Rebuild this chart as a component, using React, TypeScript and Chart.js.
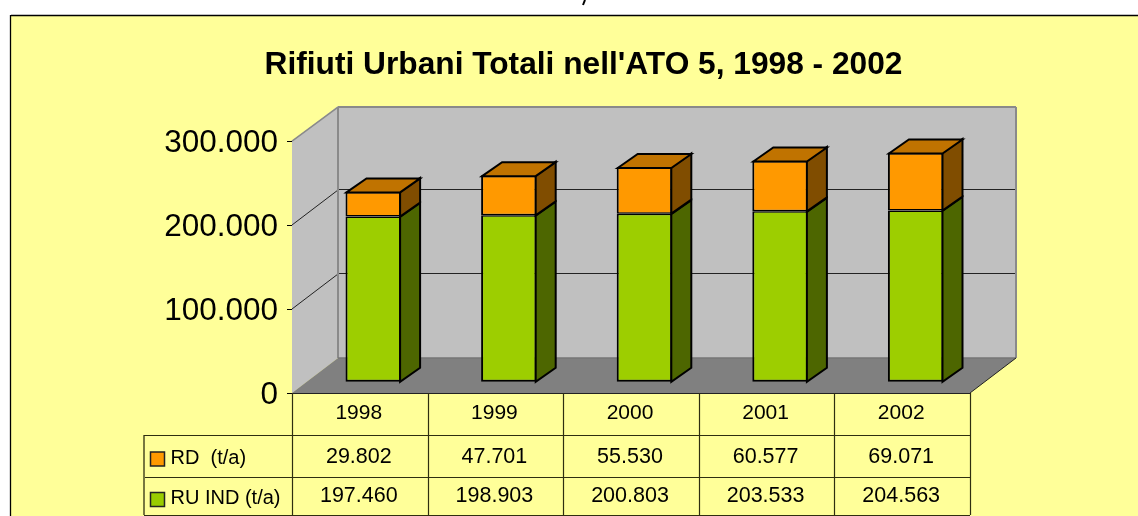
import React, { useEffect, useRef } from "react";
import { Chart, registerables } from "chart.js";

Chart.register(...registerables);

const years = ["1998", "1999", "2000", "2001", "2002"];
const ruInd = [197460, 198903, 200803, 203533, 204563];
const rd = [29802, 47701, 55530, 60577, 69071];
const ruIndLabel = "RU IND (t/a)";
const rdLabel = "RD  (t/a)";
const chartTitle = "Rifiuti Urbani Totali nell'ATO 5, 1998 - 2002";

const FONT = "'Liberation Sans', Arial, sans-serif";
const fmt = (v: number) => String(v).replace(/\B(?=(\d{3})+(?!\d))/g, ".");

const WALL = { dx: 46, dy: -35 };
const BAR = { ox: 13.5, oy: -10.7, dx: 20, dy: -14 };

const poly = (ctx: CanvasRenderingContext2D, pts: number[][], fill: string | null, stroke: string | null, lw = 1) => {
  ctx.beginPath();
  pts.forEach((p, i) => (i ? ctx.lineTo(p[0], p[1]) : ctx.moveTo(p[0], p[1])));
  ctx.closePath();
  if (fill) {
    ctx.fillStyle = fill;
    ctx.fill();
  }
  if (stroke) {
    ctx.strokeStyle = stroke;
    ctx.lineWidth = lw;
    ctx.lineJoin = "miter";
    ctx.stroke();
  }
};

const seg = (ctx: CanvasRenderingContext2D, x1: number, y1: number, x2: number, y2: number, c: string, lw: number) => {
  ctx.beginPath();
  ctx.moveTo(x1, y1);
  ctx.lineTo(x2, y2);
  ctx.strokeStyle = c;
  ctx.lineWidth = lw;
  ctx.stroke();
};

const sidePlugin = {
  id: "scene3d",
  beforeDraw(chart: any) {
    const { ctx, width, height } = chart;
    ctx.save();
    ctx.fillStyle = "#FFFFFF";
    ctx.fillRect(0, 0, width, height);
    ctx.fillStyle = "#FFFF99";
    ctx.fillRect(11, 16, width, height);
    seg(ctx, 11, 15.5, width, 15.5, "#000", 1.3);
    seg(ctx, 10.5, 15, 10.5, height, "#000", 1.3);
    // small stray mark at the top edge of the page
    seg(ctx, 585, 0, 583, 5, "#000", 2);
    ctx.restore();
  },
  beforeDatasetsDraw(chart: any) {
    const { ctx, chartArea: a, scales } = chart;
    const { left: L, right: R, top: T, bottom: B } = a;
    const { dx, dy } = WALL;
    ctx.save();
    poly(ctx, [[L + dx, T + dy], [R + dx, T + dy], [R + dx, B + dy], [L + dx, B + dy]], "#C0C0C0", null);
    poly(ctx, [[L, T], [L + dx, T + dy], [L + dx, B + dy], [L, B]], "#C0C0C0", null);
    poly(ctx, [[L, B], [R, B], [R + dx, B + dy], [L + dx, B + dy]], "#808080", null);
    const ticks = scales.y.ticks;
    ticks.forEach((t: any) => {
      const y = Math.round(scales.y.getPixelForValue(t.value));
      if (t.value > 0 && t.value < 300000) {
        seg(ctx, L, y, L + dx, y + dy, "#222", 1);
        seg(ctx, L + dx, y + dy - 0.5, R + dx, y + dy - 0.5, "#222", 1);
      }
    });
    const g = "#8A8A8A";
    seg(ctx, L, T, L + dx, T + dy + 1, g, 1.5);
    seg(ctx, L + dx, T + dy + 1, R + dx, T + dy + 1, g, 2);
    seg(ctx, R + dx, T + dy + 1, R + dx, B + dy, g, 2);
    seg(ctx, L + dx, T + dy + 1, L + dx, B + dy, g, 2);
    seg(ctx, L + dx, B + dy, R + dx, B + dy, "#767676", 1.5);
    seg(ctx, R, B, R + dx, B + dy, "#222", 1);
    ctx.translate(BAR.ox, BAR.oy);
  },
  afterDatasetsDraw(chart: any) {
    const { ctx, chartArea: a, scales } = chart;
    const { dx, dy } = BAR;
    const faces = [
      { side: "#4D6600", top: "#739900" },
      { side: "#804D00", top: "#C07300" },
    ];
    faces.forEach((f, di) => {
      chart.getDatasetMeta(di).data.forEach((el: any) => {
        const r = el.x + el.width / 2;
        const l = el.x - el.width / 2;
        poly(ctx, [[r - 1, el.y + 0.5], [r - 1 + dx, el.y + dy + 0.5], [r - 1 + dx, el.base + dy], [r - 1, el.base]], f.side, "#000", 2);
        if (di === 1) {
          poly(ctx, [[l + 1, el.y + 1], [l + 1 + dx, el.y + dy + 1], [r - 1 + dx, el.y + dy + 1], [r - 1, el.y + 1]], f.top, "#000", 2);
        }
      });
    });
    ctx.restore();

    // data table below the plot, columns taken from the category scale
    const { left: L, right: R, bottom: B } = a;
    const x = scales.x;
    const col = (R - L) / years.length;
    const rows = [B + 42, B + 84, B + 122];
    const tableLeft = 144;
    const line = "#2E2E10";
    ctx.save();
    seg(ctx, L, B + 0.5, R, B + 0.5, "#222", 1.2);
    for (let i = 0; i <= years.length; i++) {
      const px = Math.round(L + i * col) + 0.5;
      seg(ctx, px, B, px, rows[2], line, 1.2);
    }
    seg(ctx, tableLeft, rows[0], tableLeft, rows[2], line, 1.3);
    rows.forEach((y, i) => seg(ctx, i === 1 ? tableLeft + 1 : tableLeft, y + 0.5, R, y + 0.5, line, 1.2));

    ctx.fillStyle = "#000";
    ctx.textBaseline = "middle";
    ctx.font = `21.5px ${FONT}`;
    ctx.textAlign = "center";
    years.forEach((_, i) => {
      const cx = x.getPixelForValue(i) - 1;
      ctx.fillText(fmt(rd[i]), cx, B + 64.5);
      ctx.fillText(fmt(ruInd[i]), cx, B + 103.5);
    });
    ctx.textAlign = "left";
    ctx.font = `20px ${FONT}`;
    ctx.fillText(rdLabel, 170.5, B + 65.5);
    ctx.fillText(ruIndLabel, 170.5, B + 105);
    const key = (y: number, c: string) => {
      poly(ctx, [[150.5, y], [164.5, y], [164.5, y + 14], [150.5, y + 14]], c, "#222", 1.5);
    };
    key(B + 59, "#FF9900");
    key(B + 99.5, "#99CC00");
    ctx.restore();
  },
};

export default function App() {
  const ref = useRef<HTMLCanvasElement>(null);
  useEffect(() => {
    document.body.style.margin = "0";
    const chart = new Chart(ref.current as HTMLCanvasElement, {
      type: "bar",
      data: {
        labels: years,
        datasets: [
          {
            label: ruIndLabel,
            data: ruInd,
            backgroundColor: "#9DCE00",
            borderColor: "#000",
            borderWidth: { top: 1.5, right: 2, bottom: 2, left: 2 },
            borderSkipped: false,
            barPercentage: 0.41,
            categoryPercentage: 1,
          },
          {
            label: rdLabel,
            data: rd,
            backgroundColor: "#FF9900",
            borderColor: "#000",
            borderWidth: { top: 2, right: 2, bottom: 1.5, left: 2 },
            borderSkipped: false,
            barPercentage: 0.41,
            categoryPercentage: 1,
          },
        ],
      },
      options: {
        responsive: false,
        animation: false,
        layout: { padding: { left: 0, right: 168, top: 0, bottom: 0 } },
        plugins: {
          legend: { display: false },
          tooltip: { enabled: false },
          title: {
            display: true,
            text: chartTitle,
            color: "#000",
            font: { family: FONT, size: 31.7, weight: "bold", lineHeight: 1.2 },
            padding: { top: 46, bottom: 57 },
          },
        },
        scales: {
          x: {
            stacked: true,
            grid: { display: false, drawTicks: false },
            border: { display: false },
            ticks: { color: "#000", padding: 8, labelOffset: -1, maxRotation: 0, font: { family: FONT, size: 21 } },
            afterFit: (s: any) => {
              s.height = 123;
            },
          },
          y: {
            stacked: true,
            min: 0,
            max: 300000,
            grid: { drawOnChartArea: false, tickLength: 5, color: "#000" },
            border: { display: false },
            ticks: {
              stepSize: 100000,
              color: "#000",
              padding: 9,
              labelOffset: 2,
              font: { family: FONT, size: 31.5 },
              callback: (v: any) => fmt(Number(v)),
            },
            afterFit: (s: any) => {
              s.width = 292;
            },
          },
        },
      } as any,
      plugins: [
        {
          id: "titleShift",
          afterLayout(chart: any) {
            chart.titleBlock.left = 29;
            chart.titleBlock.right = 1138;
          },
        },
        sidePlugin,
      ] as any,
    });
    return () => chart.destroy();
  }, []);
  return (
    <div style={{ position: "absolute", left: 0, top: 0, width: 1138, height: 516, overflow: "hidden" }}>
      <canvas ref={ref} width={1138} height={516} style={{ display: "block" }} />
    </div>
  );
}
